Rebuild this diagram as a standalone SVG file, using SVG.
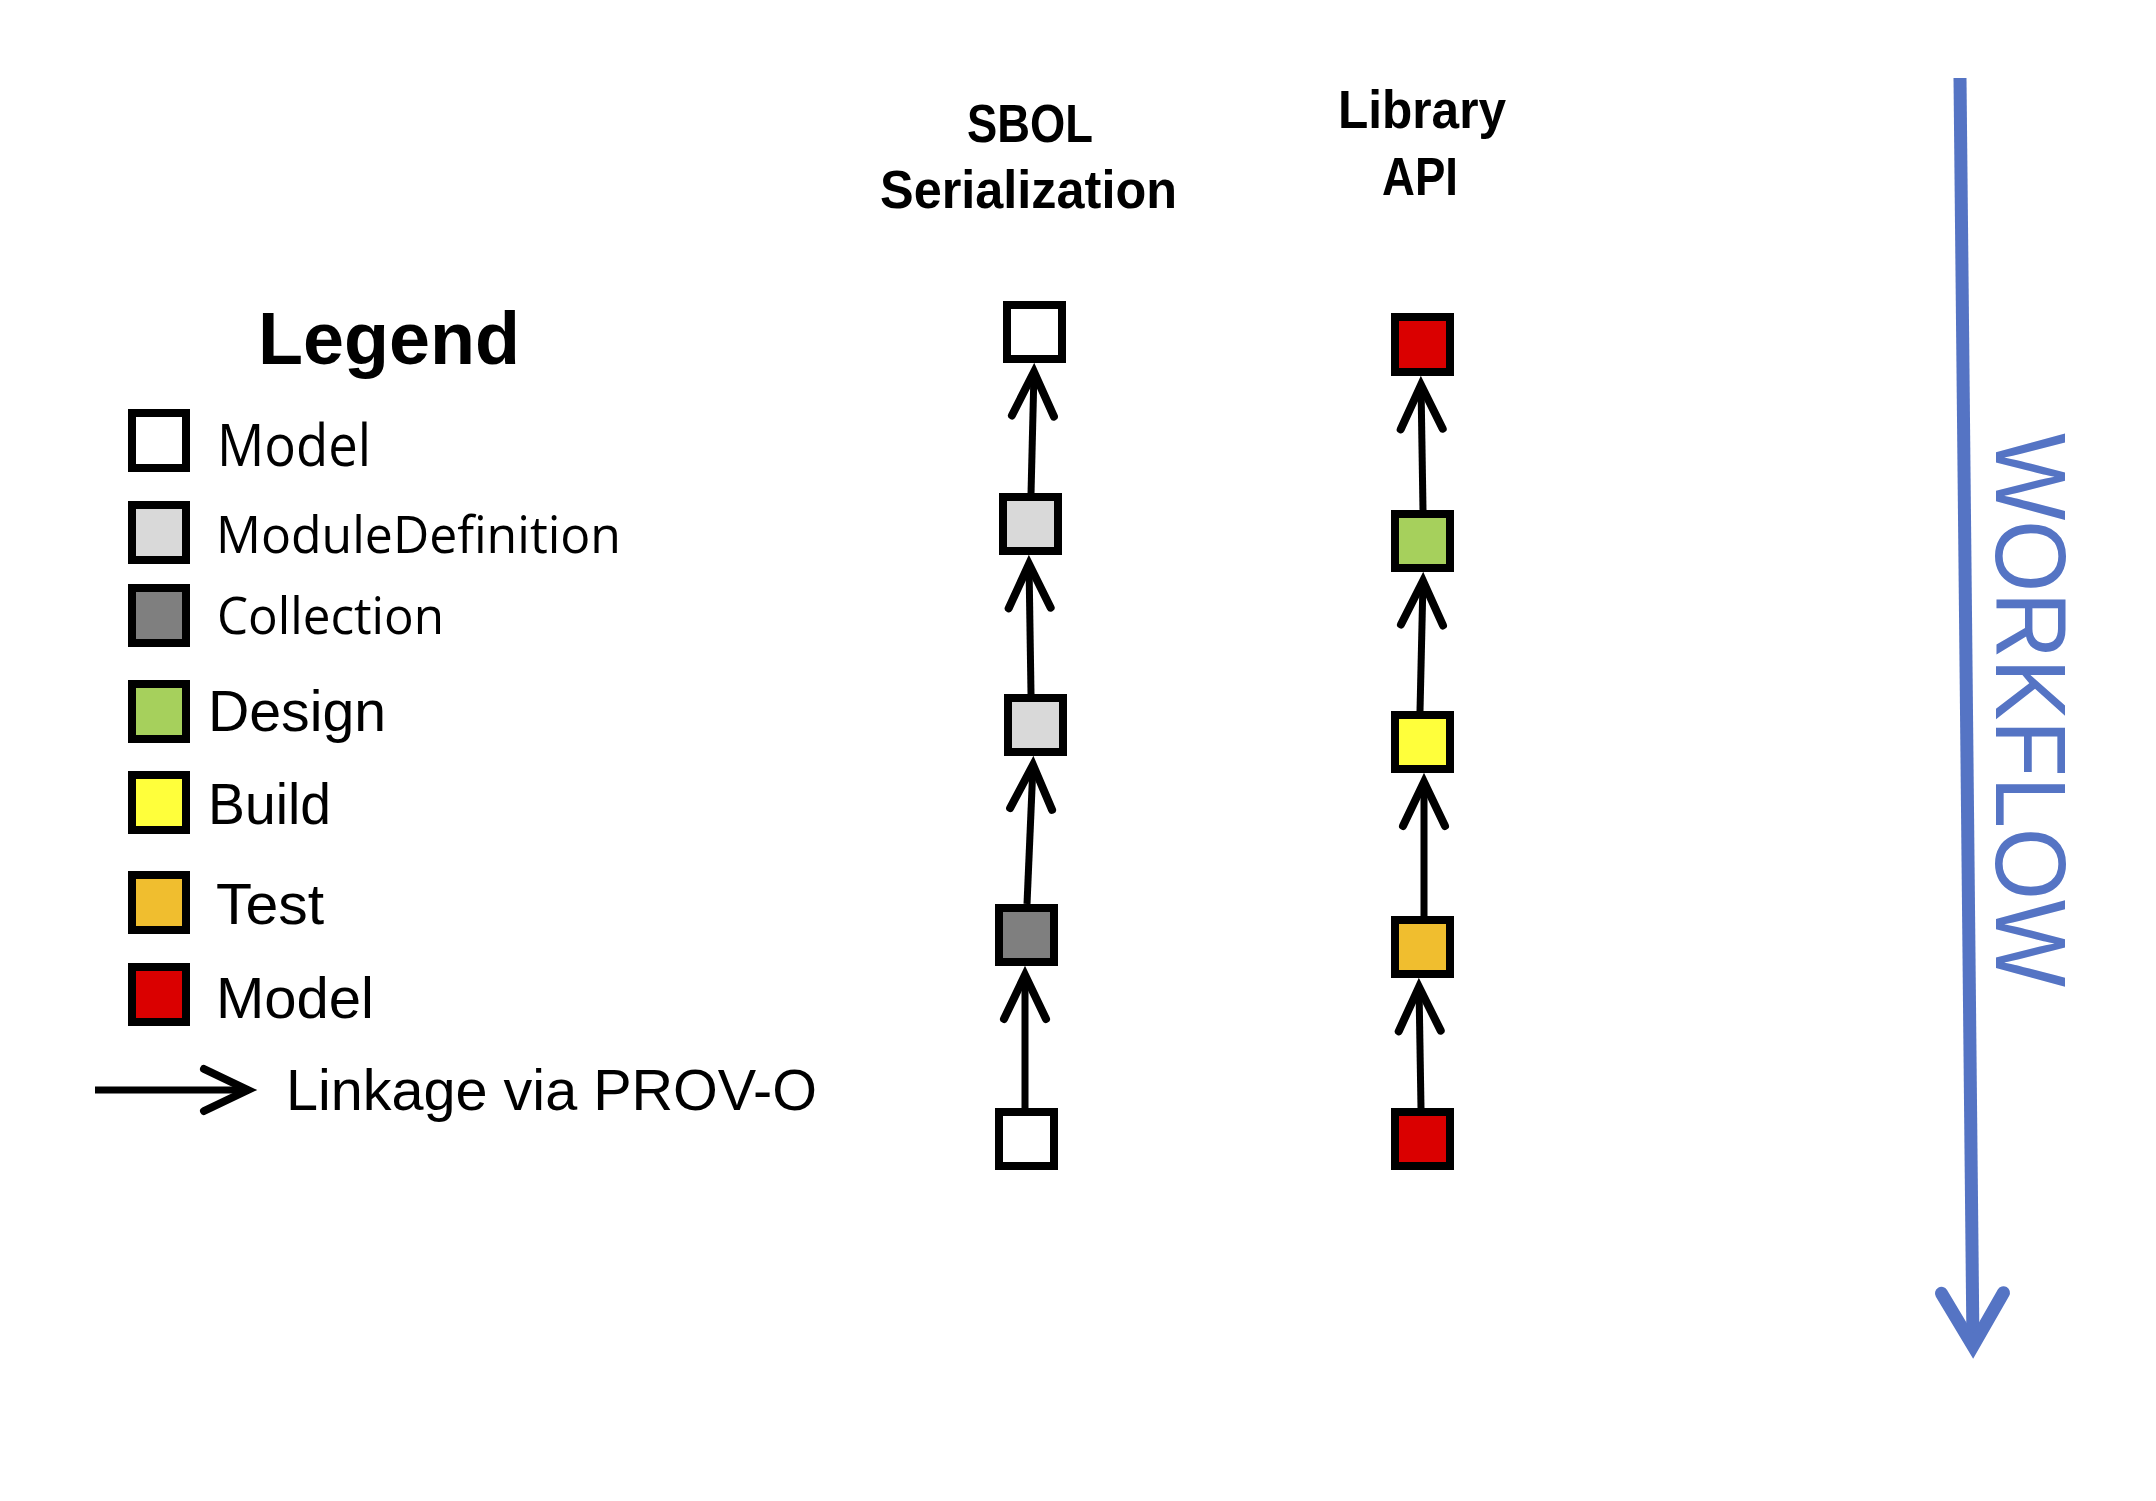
<svg xmlns="http://www.w3.org/2000/svg" width="2156" height="1501" viewBox="0 0 2156 1501">
<style>
.box{stroke:#000;stroke-width:8}
.white{fill:#FFFFFF}
.lgray{fill:#D9D9D9}
.dgray{fill:#7F7F7F}
.green{fill:#A6D05C}
.yellow{fill:#FFFF3B}
.orange{fill:#F0BE2F}
.red{fill:#DA0000}
.link{stroke:#000;stroke-width:7;fill:none}
.cal{font-family:"Open Sans","Liberation Sans",sans-serif;fill:#000}
.ari{font-family:"Liberation Sans",Arial,sans-serif;fill:#000}
.hdr{font-family:"Liberation Sans",Arial,sans-serif;font-weight:bold;font-size:54px;fill:#000}
</style>
<defs>
<marker id="chev" markerUnits="userSpaceOnUse" orient="auto" refX="0" refY="0" markerWidth="80" markerHeight="80" viewBox="-60 -40 80 80" overflow="visible">
<path d="M -44 -21 L 0 0 L -44 21" fill="none" stroke="#000" stroke-width="8" stroke-linecap="round" stroke-linejoin="miter"/>
</marker>
<marker id="chevBlue" markerUnits="userSpaceOnUse" orient="auto" refX="0" refY="0" markerWidth="120" markerHeight="120" viewBox="-90 -60 120 120" overflow="visible">
<path d="M -53 -31 L 0 0 L -53 31" fill="none" stroke="#5574C4" stroke-width="13" stroke-linecap="round" stroke-linejoin="miter"/>
</marker>
</defs>
<rect width="2156" height="1501" fill="#FFFFFF"/>

<g id="legend">
<text class="ari" x="258" y="364" font-size="74" font-weight="bold" textLength="262" lengthAdjust="spacingAndGlyphs">Legend</text>
<g id="legend-model-white"><rect class="box white" x="132" y="413" width="54" height="55"/><text class="cal" x="217" y="466" font-size="58" textLength="154" lengthAdjust="spacingAndGlyphs">Model</text></g>
<g id="legend-moduledefinition"><rect class="box lgray" x="132" y="505" width="54" height="55"/><text class="cal" x="216" y="553" font-size="52" textLength="405" lengthAdjust="spacingAndGlyphs">ModuleDefinition</text></g>
<g id="legend-collection"><rect class="box dgray" x="132" y="588" width="54" height="55"/><text class="cal" x="217" y="634" font-size="52" textLength="227" lengthAdjust="spacingAndGlyphs">Collection</text></g>
<g id="legend-design"><rect class="box green" x="132" y="684" width="54" height="55"/><text class="ari" x="208" y="731" font-size="58" textLength="178" lengthAdjust="spacingAndGlyphs">Design</text></g>
<g id="legend-build"><rect class="box yellow" x="132" y="775" width="54" height="55"/><text class="ari" x="208" y="824" font-size="58" textLength="123" lengthAdjust="spacingAndGlyphs">Build</text></g>
<g id="legend-test"><rect class="box orange" x="132" y="875" width="54" height="55"/><text class="ari" x="216" y="924" font-size="58" textLength="108" lengthAdjust="spacingAndGlyphs">Test</text></g>
<g id="legend-model-red"><rect class="box red" x="132" y="967" width="54" height="55"/><text class="ari" x="216" y="1018" font-size="58" textLength="158" lengthAdjust="spacingAndGlyphs">Model</text></g>
<g id="legend-linkage"><line class="link" x1="95" y1="1090" x2="248" y2="1090" stroke-width="8" marker-end="url(#chev)"/><text class="ari" x="286" y="1110" font-size="57" textLength="531" lengthAdjust="spacingAndGlyphs">Linkage via PROV-O</text></g>
</g>

<g id="headers">
<text class="hdr" x="967" y="142" textLength="126" lengthAdjust="spacingAndGlyphs">SBOL</text>
<text class="hdr" x="880" y="208" textLength="297" lengthAdjust="spacingAndGlyphs">Serialization</text>
<text class="hdr" x="1338" y="128" textLength="168" lengthAdjust="spacingAndGlyphs">Library</text>
<text class="hdr" x="1382" y="195" textLength="76" lengthAdjust="spacingAndGlyphs">API</text>
</g>

<g id="connectors">
<line class="link" x1="1031" y1="494" x2="1034" y2="372" marker-end="url(#chev)"/>
<line class="link" x1="1031" y1="694" x2="1029" y2="564" marker-end="url(#chev)"/>
<line class="link" x1="1027" y1="904" x2="1033" y2="765" marker-end="url(#chev)"/>
<line class="link" x1="1025" y1="1108" x2="1025" y2="975" marker-end="url(#chev)"/>
<line class="link" x1="1423" y1="510" x2="1421" y2="385" marker-end="url(#chev)"/>
<line class="link" x1="1420" y1="711" x2="1423" y2="581" marker-end="url(#chev)"/>
<line class="link" x1="1424" y1="916" x2="1424" y2="782" marker-end="url(#chev)"/>
<line class="link" x1="1421" y1="1108" x2="1419" y2="987" marker-end="url(#chev)"/>
</g>

<g id="sbol-1"><rect class="box white" x="1007" y="305" width="55" height="54"/></g>
<g id="sbol-2"><rect class="box lgray" x="1003" y="497" width="55" height="54"/></g>
<g id="sbol-3"><rect class="box lgray" x="1008" y="698" width="55" height="54"/></g>
<g id="sbol-4"><rect class="box dgray" x="999" y="908" width="55" height="54"/></g>
<g id="sbol-5"><rect class="box white" x="999" y="1112" width="55" height="54"/></g>

<g id="lib-1"><rect class="box red" x="1395" y="317" width="55" height="55"/></g>
<g id="lib-2"><rect class="box green" x="1395" y="514" width="55" height="54"/></g>
<g id="lib-3"><rect class="box yellow" x="1395" y="715" width="55" height="54"/></g>
<g id="lib-4"><rect class="box orange" x="1395" y="920" width="55" height="54"/></g>
<g id="lib-5"><rect class="box red" x="1395" y="1112" width="55" height="54"/></g>

<g id="workflow">
<line x1="1960" y1="78" x2="1973" y2="1346" stroke="#5574C4" stroke-width="13" marker-end="url(#chevBlue)"/>
<text transform="translate(1996,433) rotate(90)" x="0" y="0" font-family="'Liberation Sans',sans-serif" font-size="100" fill="#5574C4" textLength="554" lengthAdjust="spacingAndGlyphs">WORKFLOW</text>
</g>
</svg>
